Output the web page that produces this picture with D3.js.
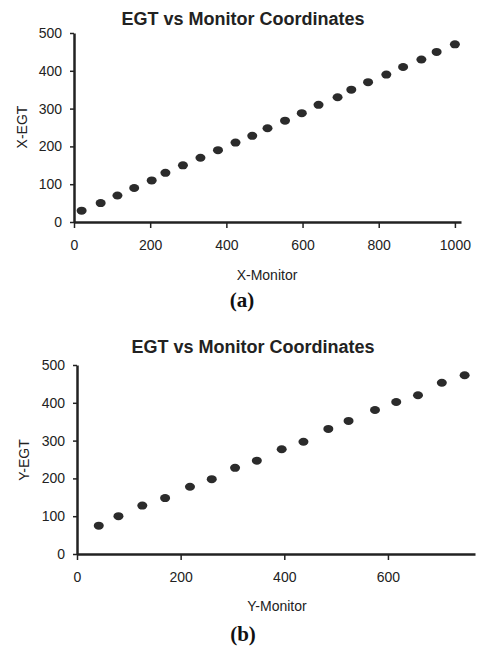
<!DOCTYPE html>
<html lang="en">
<head>
<meta charset="UTF-8">
<title>EGT vs Monitor Coordinates</title>
<script src="https://d3js.org/d3.v7.min.js"></script>
<style>
  body { margin: 0; background: #fff; }
  .tick text { font-family: Arial, "Liberation Sans", sans-serif; font-size: 14px; fill: #222; }
  .domain { stroke: #222; stroke-width: 2.5px; }
  .tick line { stroke: #222; stroke-width: 1.5px; }
</style>
</head>
<body>
<div id="chart"></div>
<script>
// panel (a): X-Monitor vs X-EGT
var xMonitor = [20, 70, 114, 158, 204, 240, 286, 332, 378, 424, 468, 508, 554, 598, 642, 692, 728, 772, 820, 864, 912, 952, 1000];
var xEgt     = [30, 50, 70, 90, 110, 130, 150, 170, 190, 210, 228, 248, 268, 288, 310, 330, 350, 370, 390, 410, 430, 450, 470];

// panel (b): Y-Monitor vs Y-EGT
var yMonitor = [42, 80, 126, 170, 218, 260, 305, 347, 395, 437, 485, 524, 575, 616, 658, 704, 748];
var yEgt     = [75, 100, 128, 148, 178, 198, 228, 247, 277, 297, 331, 352, 381, 402, 420, 453, 473];

var xTicksA = [0, 200, 400, 600, 800, 1000];
var xTicksB = [0, 200, 400, 600];
var yTicks = [0, 100, 200, 300, 400, 500];

var width = 477, height = 649;
var svg = d3.select("#chart").append("svg")
    .attr("width", width)
    .attr("height", height);

function drawPanel(p) {
    var x = d3.scaleLinear().domain(p.xDomain).range([p.left, p.right]);
    var y = d3.scaleLinear().domain([0, 500]).range([p.bottom, p.top]);
    var g = svg.append("g");

    g.append("g")
        .attr("transform", "translate(0," + p.bottom + ")")
        .call(d3.axisBottom(x).tickValues(p.xTicks).tickFormat(d3.format("d"))
            .tickSize(6).tickSizeOuter(0).tickPadding(12));

    g.append("g")
        .attr("transform", "translate(" + p.left + ",0)")
        .call(d3.axisLeft(y).tickValues(yTicks).tickSize(4).tickSizeOuter(0).tickPadding(8));

    var pts = p.xs.map(function(v, i) { return [v, p.ys[i]]; });
    g.append("g").selectAll("ellipse")
        .data(pts)
        .enter()
        .append("ellipse")
        .attr("cx", function(d) { return x(d[0]); })
        .attr("cy", function(d) { return y(d[1]); })
        .attr("rx", 5)
        .attr("ry", 4)
        .style("fill", "#2b2b2b");

    g.append("text")
        .attr("x", p.titleX).attr("y", p.titleY)
        .attr("text-anchor", "middle")
        .style("font-family", "Arial, 'Liberation Sans', sans-serif")
        .style("font-weight", "bold")
        .style("font-size", "18px")
        .style("fill", "#222")
        .text("EGT vs Monitor Coordinates");

    g.append("text")
        .attr("x", p.xLabelX).attr("y", p.xLabelY)
        .attr("text-anchor", "middle")
        .style("font-family", "Arial, 'Liberation Sans', sans-serif")
        .style("font-size", "14px")
        .style("fill", "#222")
        .text(p.xLabel);

    g.append("text")
        .attr("transform", "translate(" + p.yLabelX + "," + p.yLabelY + ") rotate(-90)")
        .attr("text-anchor", "middle")
        .style("font-family", "Arial, 'Liberation Sans', sans-serif")
        .style("font-size", "14px")
        .style("fill", "#222")
        .text(p.yLabel);

    g.append("text")
        .attr("x", p.capX).attr("y", p.capY)
        .attr("text-anchor", "middle")
        .style("font-family", "'Liberation Serif', 'Times New Roman', serif")
        .style("font-weight", "bold")
        .style("font-size", "21px")
        .style("fill", "#111")
        .text(p.caption);
}

drawPanel({
    xs: xMonitor, ys: xEgt, xDomain: [0, 1016], xTicks: xTicksA,
    left: 74, right: 461, top: 33, bottom: 222,
    titleX: 243, titleY: 25, xLabel: "X-Monitor", xLabelX: 267, xLabelY: 280,
    yLabel: "X-EGT", yLabelX: 27, yLabelY: 127, caption: "(a)", capX: 242, capY: 307
});

drawPanel({
    xs: yMonitor, ys: yEgt, xDomain: [0, 768], xTicks: xTicksB,
    left: 77, right: 475, top: 365, bottom: 554,
    titleX: 253, titleY: 353, xLabel: "Y-Monitor", xLabelX: 277, xLabelY: 611,
    yLabel: "Y-EGT", yLabelX: 29, yLabelY: 460, caption: "(b)", capX: 243, capY: 641
});
</script>
</body>
</html>
